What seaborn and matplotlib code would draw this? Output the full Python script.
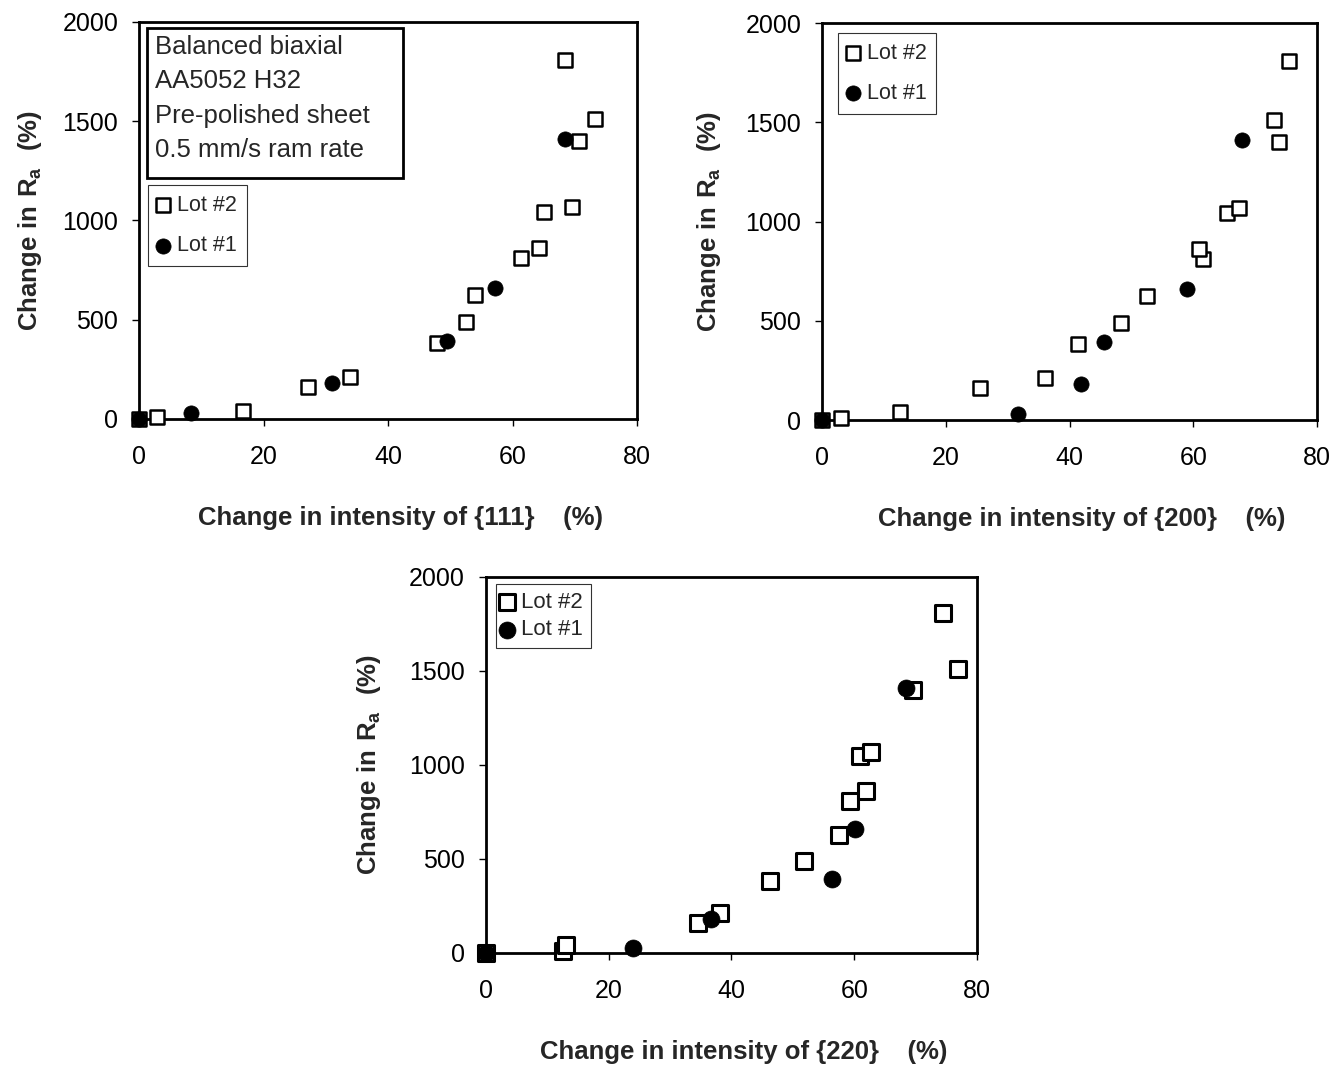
import matplotlib
matplotlib.use("Agg")
import matplotlib.pyplot as plt
import matplotlib.patches as mpatches
import seaborn as sns
import pandas as pd

# ---- data ----
ra_lot2 = [0, 12, 42, 160, 210, 383, 487, 627, 810, 860, 1045, 1067, 1400, 1511, 1807]
ra_lot1 = [0, 29, 182, 395, 659, 1410]

i111_lot2 = [0, 2.9, 16.7, 27.1, 33.9, 47.8, 52.6, 53.9, 61.3, 64.2, 65.0, 69.5, 70.7, 73.3, 68.5]
i111_lot1 = [0, 8.3, 31.0, 49.4, 57.2, 68.5]

i200_lot2 = [0, 3.0, 12.6, 25.6, 36.1, 41.3, 48.4, 52.6, 61.6, 61.0, 65.5, 67.4, 73.9, 73.1, 75.5]
i200_lot1 = [0, 31.6, 41.8, 45.5, 59.0, 67.8]

i220_lot2 = [0, 12.5, 13.1, 34.6, 38.2, 46.2, 51.9, 57.6, 59.3, 62.0, 61.0, 62.8, 69.5, 76.9, 74.5]
i220_lot1 = [0, 24.0, 36.7, 56.4, 60.2, 68.5]

x_ticks = [0, 20, 40, 60, 80]
y_ticks = [0, 500, 1000, 1500, 2000]
planes = ["{111}", "{200}", "{220}"]
lot_labels = ["Lot #2", "Lot #1"]
note_lines = ["Balanced biaxial", "AA5052 H32", "Pre-polished sheet", "0.5 mm/s ram rate"]

sns.set_style("ticks")
plt.rcParams["font.family"] = ["Liberation Sans", "DejaVu Sans"]
plt.rcParams["mathtext.fontset"] = "custom"
plt.rcParams["mathtext.rm"] = "Liberation Sans"
plt.rcParams["mathtext.bf"] = "Liberation Sans:bold"

fig = plt.figure(figsize=(13.42, 10.65), dpi=100)
positions = [
    [0.1036, 0.6066, 0.3711, 0.3728],
    [0.6125, 0.6056, 0.3689, 0.3728],
    [0.3621, 0.1052, 0.3659, 0.3531],
]
series = [
    (i111_lot2, i111_lot1),
    (i200_lot2, i200_lot1),
    (i220_lot2, i220_lot1),
]
legend_anchor = [(0.018, 0.589), (0.032, 0.975), (0.02, 0.981)]
xlabel_y = [-0.22, -0.22, -0.231]
ylabel_x = [-0.19, -0.2, -0.21]

for k, (pos, (x2, x1)) in enumerate(zip(positions, series)):
    ax = fig.add_axes(pos)
    sq_s = 105 if k < 2 else 135
    sq_lw = 1.8 if k < 2 else 2.2
    ci_s = 120 if k < 2 else 150
    df2 = pd.DataFrame({"x": x2, "y": ra_lot2})
    df1 = pd.DataFrame({"x": x1, "y": ra_lot1})
    sns.scatterplot(data=df2, x="x", y="y", ax=ax, marker="s", s=sq_s,
                    color="white", edgecolor="black", linewidth=sq_lw,
                    label=lot_labels[0], clip_on=False, zorder=3)
    sns.scatterplot(data=df1, x="x", y="y", ax=ax, marker="o", s=ci_s,
                    color="black", edgecolor="black", linewidth=0.5,
                    label=lot_labels[1], clip_on=False, zorder=4)
    ax.set_xlim(0, 80)
    ax.set_ylim(0, 2000)
    ax.set_xticks(x_ticks)
    ax.set_yticks(y_ticks)
    for sp in ax.spines.values():
        sp.set_linewidth(2)
        sp.set_color("black")
        sp.set_visible(True)
    ax.tick_params(axis="both", direction="out", length=5, width=1,
                   labelsize=18, colors="black")
    ax.tick_params(axis="x", pad=14)
    ax.tick_params(axis="y", pad=10)
    ax.set_xlabel("Change in intensity of " + planes[k] + "    (%)",
                  fontsize=18.5, fontweight="bold")
    ax.set_ylabel(r"$\mathbf{Change\ in\ R_a\ \ (\%)}$", fontsize=18.5)
    ax.xaxis.set_label_coords(0.525, xlabel_y[k])
    ax.yaxis.set_label_coords(ylabel_x[k], 0.5)

    if k < 2:
        leg = ax.legend(loc="upper left", bbox_to_anchor=legend_anchor[k],
                        fontsize=15.5, frameon=True, fancybox=False,
                        edgecolor="black", borderpad=0.45, labelspacing=0.9,
                        handletextpad=0.4, handlelength=0.5, borderaxespad=0)
    else:
        leg = ax.legend(loc="upper left", bbox_to_anchor=legend_anchor[k],
                        fontsize=16, frameon=True, fancybox=False,
                        edgecolor="black", borderpad=0.35, labelspacing=0.3,
                        handletextpad=0.45, handlelength=0.35, borderaxespad=0)
    leg.get_frame().set_linewidth(0.8)

    if k == 0:
        ax.add_patch(mpatches.Rectangle((0.016, 0.607), 0.514, 0.378,
                                        transform=ax.transAxes, facecolor="white",
                                        edgecolor="black", linewidth=2, zorder=5))
        ax.text(0.032, 0.967, "\n".join(note_lines), transform=ax.transAxes,
                ha="left", va="top", fontsize=18.5, linespacing=1.55, zorder=6)

fig.savefig("out.png", dpi=100)
